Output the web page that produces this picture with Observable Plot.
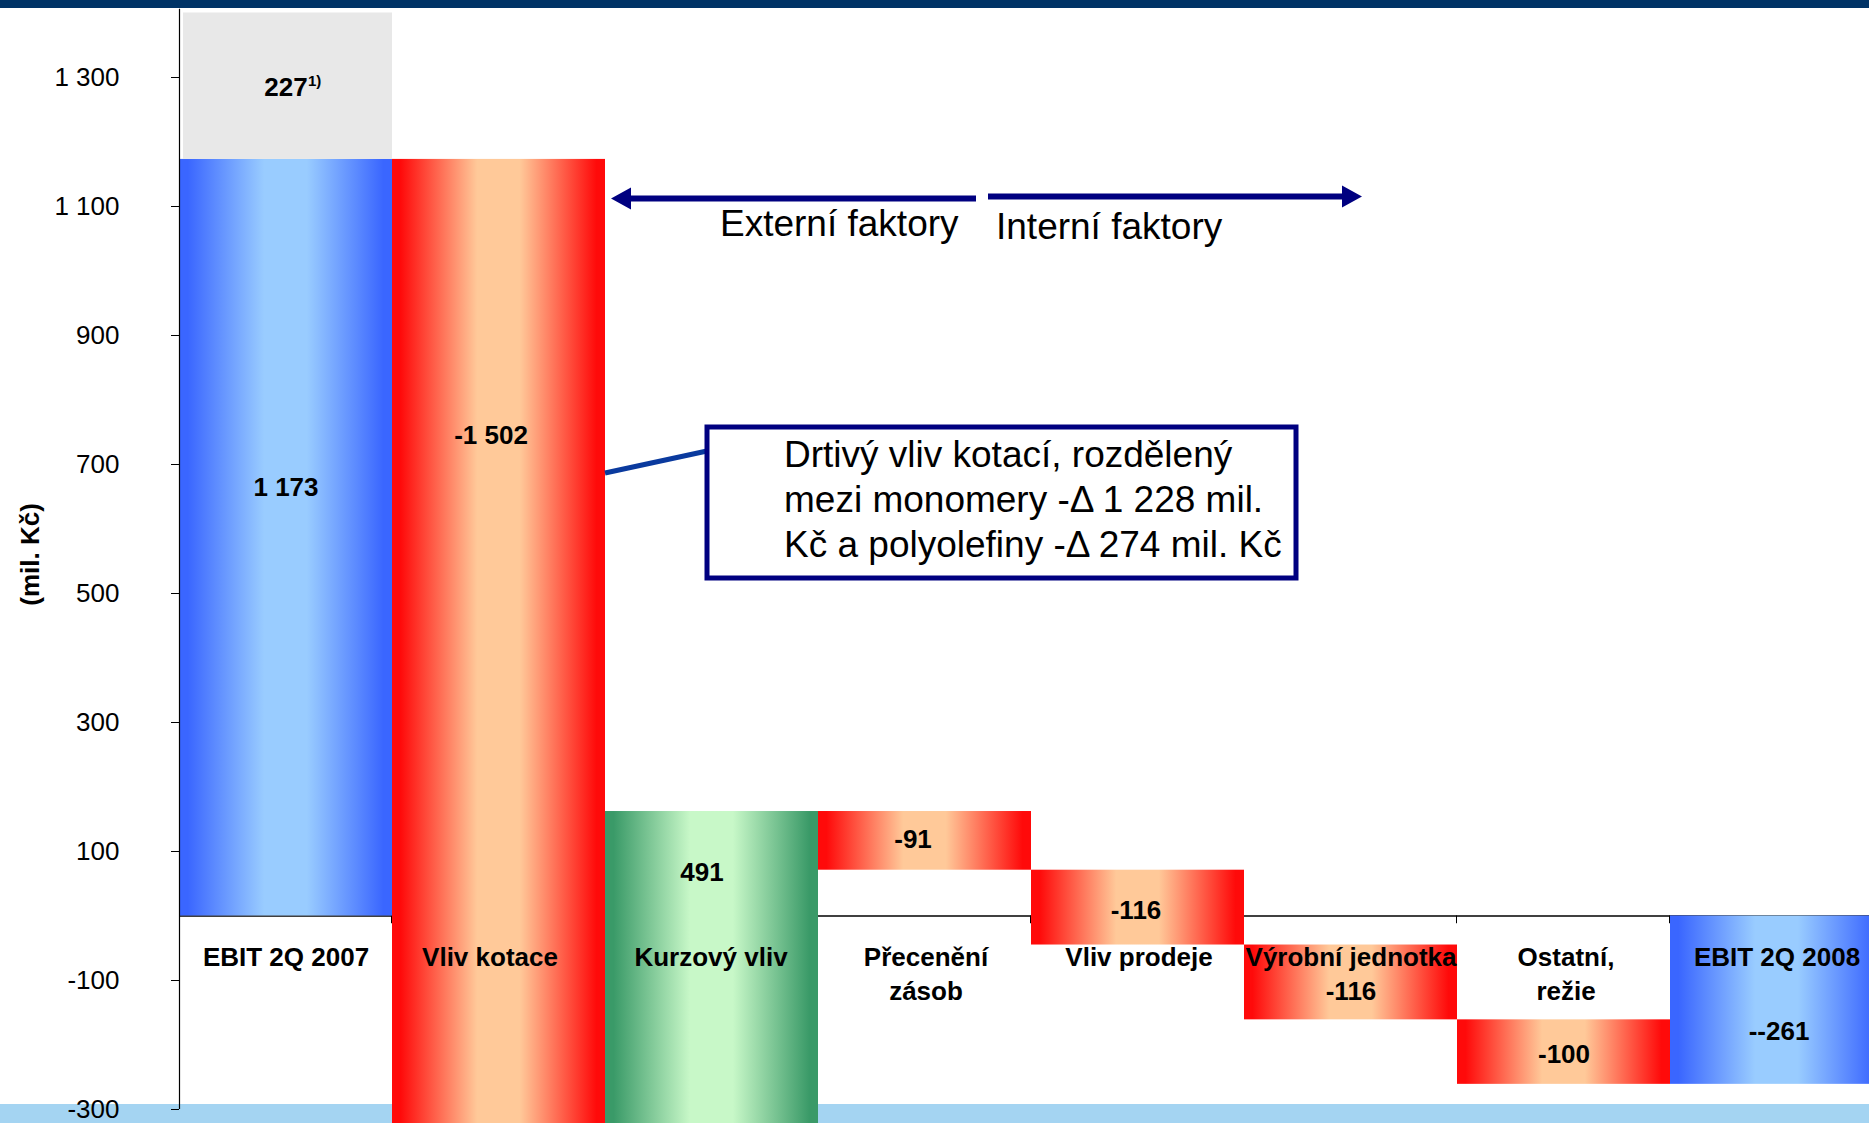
<!DOCTYPE html>
<html>
<head>
<meta charset="utf-8">
<script src="https://cdn.jsdelivr.net/npm/d3@7"></script>
<script src="https://cdn.jsdelivr.net/npm/@observablehq/plot@0.6"></script>
<style>
  html, body { margin: 0; padding: 0; background: #fff; overflow: hidden; }
  #wrap { position: relative; width: 1869px; height: 1123px; overflow: hidden; background: #fff;
          font-family: "Liberation Sans", Arial, sans-serif; }
  #topbar { position: absolute; left: 0; top: 0; width: 1869px; height: 8px; background: #003366; }
  #footband { position: absolute; left: 0; top: 1104px; width: 1869px; height: 19px; background: #a4d4f2; }
  #chart { position: absolute; left: 0; top: 0; }
</style>
</head>
<body>
<div id="wrap">
  <div id="footband"></div>
  <div id="chart"></div>
  <div id="topbar"></div>
</div>
<script>
// ---------------- data ----------------
const categories = ["EBIT 2Q 2007", "Vliv kotace", "Kurzový vliv", "Přecenění zásob",
                    "Vliv prodeje", "Výrobní jednotka", "Ostatní, režie", "EBIT 2Q 2008"];
const categoryLabels = ["EBIT 2Q 2007", "Vliv kotace", "Kurzový vliv", "Přecenění\nzásob",
                        "Vliv prodeje", "Výrobní jednotka", "Ostatní,\nrežie", "EBIT 2Q 2008"];
const changes = [1173, -1502, 491, -91, -116, -116, -100];   // start value, then the steps
const endValue = -261;                                       // EBIT 2Q 2008
const extraOnStart = 227;                                    // grey block on top of EBIT 2Q 2007
const valueLabels = ["1 173", "-1 502", "491", "-91", "-116", "-116", "-100", "--261"];
const extraLabel = "227";
const extraNote = "1)";
const yTicks = [-300, -100, 100, 300, 500, 700, 900, 1100, 1300];
const yTitle = "(mil. Kč)";
const leftArrowText = "Externí faktory";
const rightArrowText = "Interní faktory";
const calloutLines = ["Drtivý vliv kotací, rozdělený", "mezi monomery -Δ 1 228 mil.", "Kč a polyolefiny -Δ 274 mil. Kč"];

// ---------------- build waterfall ----------------
const bars = [];
let cum = 0;
categories.forEach((c, i) => {
  if (i === 0) { bars.push({cat: c, y1: 0, y2: changes[0], kind: "total"}); cum = changes[0]; }
  else if (i === categories.length - 1) bars.push({cat: c, y1: 0, y2: endValue, kind: "total"});
  else { const v = changes[i]; bars.push({cat: c, y1: cum, y2: cum + v, kind: v < 0 ? "neg" : "pos"}); cum += v; }
});
const extraBar = [{cat: categories[0], y1: changes[0], y2: changes[0] + extraOnStart}];

// ---------------- layout ----------------
const W = 1869, H = 1123, LEFT = 179, BW = 213;
const labelAt = [664, 745, 67, 118, 8, -117, -215, -180];   // vertical anchor of value labels (data units)
const valueDx = [0, -8, -10, -12, -2, 0, 0, 2];              // small horizontal nudges (px)
const catDx = [0, -9, -1, 1, 1, 0, 2, 0];
const FONT = "Liberation Sans, Arial, sans-serif";

const fmt = d3.formatLocale({decimal: ",", thousands: " ", grouping: [3], currency: ["", ""], minus: "-"}).format(",d");

const gradients = [
  ["gBlue", "#3a66ff", "#99ccff"],
  ["gRed", "#ff0a0a", "#ffc999"],
  ["gGreen", "#3a9a68", "#c8f8c8"]
];
function defsMark() {
  const defs = d3.create("svg:defs");
  for (const [id, dark, light] of gradients) {
    const g = defs.append("linearGradient").attr("id", id)
      .attr("x1", 0).attr("x2", 1).attr("y1", 0).attr("y2", 0);
    [[0, dark], [0.04, dark], [0.4, light], [0.6, light], [0.96, dark], [1, dark]].forEach(([o, c]) =>
      g.append("stop").attr("offset", o).attr("stop-color", c));
  }
  return defs.node();
}

const textStyle = {fontSize: 26, fontWeight: "bold", fill: "#000"};
const valueTextMarks = bars.map((b, i) =>
  Plot.text([b], {x: "cat", y: () => labelAt[i], text: () => valueLabels[i], dx: valueDx[i], ...textStyle}));
const catTextMarks = categories.map((c, i) =>
  Plot.text([c], {x: d => d, y: () => 0, text: () => categoryLabels[i], dx: catDx[i], dy: 26,
                  lineAnchor: "top", lineHeight: 1.31, ...textStyle}));

const chart = Plot.plot({
  width: W, height: H,
  marginLeft: LEFT, marginRight: W - (LEFT + BW * 8), marginTop: 77, marginBottom: 14,
  style: {background: "transparent", color: "#000", fontFamily: FONT, fontSize: "26px"},
  x: {type: "band", domain: categories, range: [LEFT, LEFT + BW * 8], padding: 0, axis: null},
  y: {domain: [-300, 1300], range: [1109, 77], axis: null},
  marks: [
    defsMark,
    Plot.ruleY([0], {stroke: "#000", strokeWidth: 1.5}),
    Plot.ruleX(categories.slice(1), {x: d => d, y1: 0, y2: -12, dx: -BW / 2 - 1, stroke: "#000", strokeWidth: 1}),
    Plot.barY(bars.filter(d => d.kind === "total"), {x: "cat", y1: "y1", y2: "y2", fill: "url(#gBlue)"}),
    Plot.barY(bars.filter(d => d.kind === "neg"), {x: "cat", y1: "y1", y2: "y2", fill: "url(#gRed)"}),
    Plot.barY(bars.filter(d => d.kind === "pos"), {x: "cat", y1: "y1", y2: "y2", fill: "url(#gGreen)"}),
    Plot.barY(extraBar, {x: "cat", y1: "y1", y2: "y2", fill: "#e8e8e8", insetLeft: 4}),
    Plot.ruleX([categories[0]], {x: d => d, y1: -300, y2: changes[0] + extraOnStart + 6, dx: -BW / 2, stroke: "#000", strokeWidth: 1.2}),
    Plot.axisY({ticks: yTicks, tickFormat: fmt, tickSize: 8, tickPadding: 52, fontSize: 26, label: null, stroke: "#000"}),
    Plot.text([yTitle], {frameAnchor: "left", textAnchor: "middle", rotate: -90, dx: -149, dy: -39, ...textStyle}),
    ...valueTextMarks,
    ...catTextMarks,
    Plot.text(extraBar, {x: "cat", y: d => d.y2 - 116, text: () => extraLabel, dx: 0, ...textStyle}),
    Plot.text(extraBar, {x: "cat", y: d => d.y2 - 116, text: () => extraNote, dx: 22, dy: -7, textAnchor: "start",
                         fontSize: 15, fontWeight: "bold", fill: "#000"})
  ]
});
document.getElementById("chart").appendChild(chart);

// ---------------- annotations ----------------
const svg = d3.select(chart);
const ann = svg.append("g").attr("font-family", FONT).attr("text-anchor", "start");
const NAVY = "#000080";
ann.append("line").attr("x1", 605).attr("y1", 473).attr("x2", 707).attr("y2", 451)
  .attr("stroke", "#0a3a9e").attr("stroke-width", 5);
ann.append("rect").attr("x", 707).attr("y", 427).attr("width", 589).attr("height", 151)
  .attr("fill", "#fff").attr("stroke", NAVY).attr("stroke-width", 5);
const ct = ann.append("text").attr("font-size", 37).attr("fill", "#000");
calloutLines.forEach((t, i) => ct.append("tspan").attr("x", 784).attr("y", 467 + i * 45).text(t));

// left arrow
ann.append("line").attr("x1", 628).attr("y1", 198.5).attr("x2", 976).attr("y2", 198.5).attr("stroke", NAVY).attr("stroke-width", 6);
ann.append("path").attr("d", "M611,198.5 L631,187.5 L631,209.5 Z").attr("fill", NAVY);
// right arrow
ann.append("line").attr("x1", 988).attr("y1", 196.5).attr("x2", 1345).attr("y2", 196.5).attr("stroke", NAVY).attr("stroke-width", 6);
ann.append("path").attr("d", "M1362,196.5 L1342,185.5 L1342,207.5 Z").attr("fill", NAVY);
ann.append("text").attr("x", 720).attr("y", 236).attr("font-size", 37).attr("fill", "#000").text(leftArrowText);
ann.append("text").attr("x", 996).attr("y", 239).attr("font-size", 37).attr("fill", "#000").text(rightArrowText);
</script>
</body>
</html>
